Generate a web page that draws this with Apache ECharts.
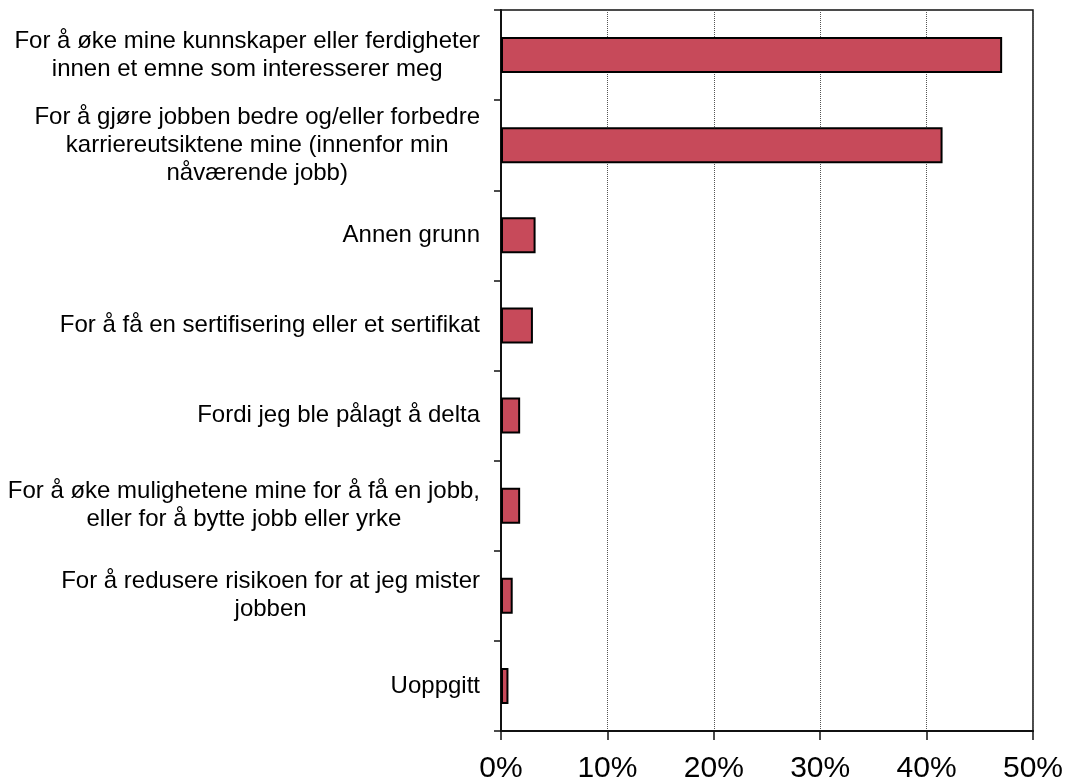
<!DOCTYPE html>
<html>
<head>
<meta charset="utf-8">
<script src="https://cdn.jsdelivr.net/npm/echarts@6/dist/echarts.min.js"></script>
<style>
    html, body { margin: 0; padding: 0; background: #fff; }
    #chart { width: 1068px; height: 784px; }
</style>
</head>
<body>
<div id="chart"></div>
<script>
// reasons for taking part, share of respondents (%)
const categories = [
    "For å øke mine kunnskaper eller ferdigheter\ninnen et emne som interesserer meg",
    "For å gjøre jobben bedre og/eller forbedre\nkarriereutsiktene mine (innenfor min\nnåværende jobb)",
    "Annen grunn",
    "For å få en sertifisering eller et sertifikat",
    "Fordi jeg ble pålagt å delta",
    "For å øke mulighetene mine for å få en jobb,\neller for å bytte jobb eller yrke",
    "For å redusere risikoen for at jeg mister\njobben",
    "Uoppgitt"
];
const values = [47.1, 41.5, 3.25, 3.0, 1.8, 1.8, 1.1, 0.7];
const xTicks = [0, 10, 20, 30, 40, 50];

const font = "'Liberation Sans', Arial, sans-serif";
const chart = echarts.init(document.getElementById("chart"));

chart.setOption({
    animation: false,
    grid: {
        left: 501,
        right: 35,
        top: 10,
        bottom: 53,
        show: true,
        borderColor: "#111",
        borderWidth: 1.5,
        containLabel: false
    },
    xAxis: {
        type: "value",
        min: xTicks[0],
        max: xTicks[xTicks.length - 1],
        interval: 10,
        axisLine: { show: true, lineStyle: { color: "#111", width: 2 } },
        axisTick: { show: true, length: 9, lineStyle: { color: "#111", width: 1.5 } },
        axisLabel: {
            formatter: "{value}%",
            fontSize: 30,
            fontFamily: font,
            color: "#000",
            margin: 23
        },
        splitLine: { show: true, lineStyle: { color: "#555", type: "dotted", width: 1 } }
    },
    yAxis: {
        type: "category",
        inverse: true,
        data: categories,
        axisLine: { show: true, lineStyle: { color: "#111", width: 2 } },
        axisTick: { show: true, length: 7, lineStyle: { color: "#111", width: 1.5 } },
        axisLabel: {
            margin: 21,
            formatter: v => v.split("\n").map(l => "{c|" + l + "}").join("\n"),
            rich: {
                c: {
                    align: "center",
                    fontSize: 24,
                    lineHeight: 28,
                    fontFamily: font,
                    color: "#000"
                }
            }
        }
    },
    series: [{
        type: "bar",
        data: values,
        barCategoryGap: "60%",
        itemStyle: {
            color: "#C74A5A",
            borderColor: "#000",
            borderWidth: 2
        }
    }]
});
</script>
</body>
</html>
